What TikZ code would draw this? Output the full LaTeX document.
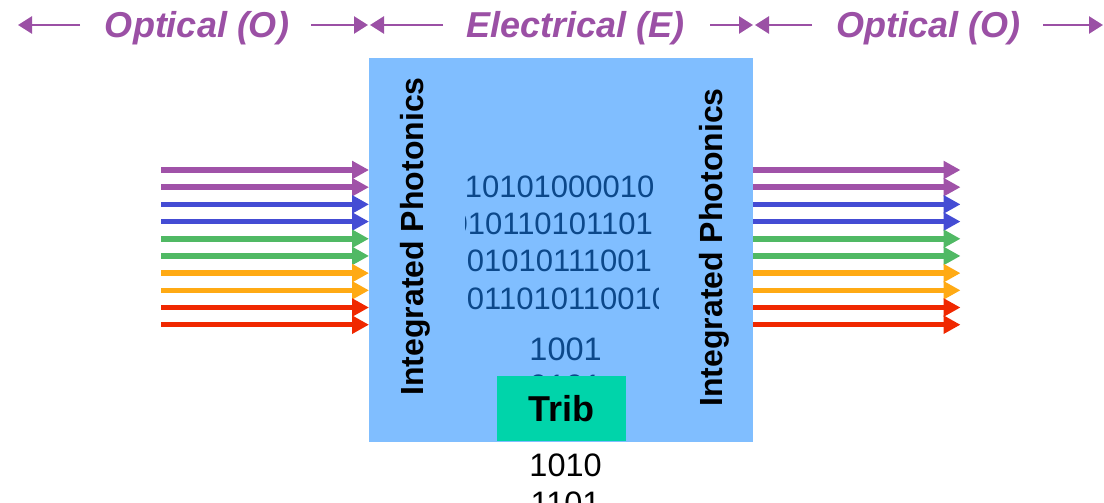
\documentclass[tikz,border=0pt]{standalone}
\usepackage{fontspec}
\setmainfont{Liberation Sans}
\usetikzlibrary{arrows.meta}
\definecolor{boxblue}{RGB}{128,190,255}
\definecolor{bittext}{RGB}{12,72,138}
\definecolor{tribgreen}{RGB}{0,212,170}
\definecolor{lblpurple}{RGB}{155,80,165}
\definecolor{wpurple}{RGB}{160,82,168}
\definecolor{wblue}{RGB}{68,76,212}
\definecolor{wgreen}{RGB}{80,185,100}
\definecolor{worange}{RGB}{255,170,20}
\definecolor{wred}{RGB}{240,40,0}
\tikzset{
  toparrow/.style={draw=lblpurple,line width=2.6pt,-{Triangle[length=14pt,width=17pt]}},
  toplabel/.style={text=lblpurple,font=\fontsize{36}{40}\selectfont\bfseries\itshape,inner sep=0pt,anchor=base},
  wave/.style={line width=5.5pt,-{Triangle[length=17pt,width=17.4pt]}},
  photon/.style={font=\fontsize{32}{36}\selectfont\bfseries,inner sep=0pt,anchor=base,rotate=90},
  bits/.style={text=bittext,font=\fontsize{31}{36}\selectfont,inner sep=0pt,anchor=base west},
  colbits/.style={font=\fontsize{32.5}{38}\selectfont,inner sep=0pt,anchor=base},
}
\begin{document}
\begin{tikzpicture}[x=1pt,y=-1pt]
\clip (0,0) rectangle (1104,503);
\fill[white] (0,0) rectangle (1104,503);
% central electrical box
\node[fill=boxblue,draw=none,minimum width=384pt,minimum height=384pt,inner sep=0pt,anchor=north west] (box) at (369,58) {};
% top labels and arrows
\node[toplabel] (o1) at (197,37.5) {Optical (O)};
\node[toplabel] (el) at (575.5,37.5) {Electrical (E)};
\node[toplabel] (o2) at (928.5,37.5) {Optical (O)};
\coordinate (a1s) at (80,25);   \coordinate (a1e) at (18,25);
\coordinate (a2s) at (311,25);  \coordinate (a2e) at (368,25);
\coordinate (a3s) at (443,25);  \coordinate (a3e) at (370,25);
\coordinate (a4s) at (710,25);  \coordinate (a4e) at (753,25);
\coordinate (a5s) at (812,25);  \coordinate (a5e) at (755,25);
\coordinate (a6s) at (1043,25); \coordinate (a6e) at (1103,25);
\draw[toparrow] (a1s) -- (a1e);
\draw[toparrow] (a2s) -- (a2e);
\draw[toparrow] (a3s) -- (a3e);
\draw[toparrow] (a4s) -- (a4e);
\draw[toparrow] (a5s) -- (a5e);
\draw[toparrow] (a6s) -- (a6e);
% wavelength arrows
\foreach \c [count=\i from 0] in {wpurple,wpurple,wblue,wblue,wgreen,wgreen,worange,worange,wred,wred}{
  \pgfmathsetmacro{\yy}{170+17.19*\i}
  \coordinate (in\i) at (161,\yy);
  \coordinate (out\i) at (960.5,\yy);
  \draw[wave,draw=\c,fill=\c] (in\i) -- (box.west |- in\i);
  \draw[wave,draw=\c,fill=\c] (box.east |- out\i) -- (out\i);
}
% integrated photonics labels
\node[photon] (ipl) at (423,236.5) {Integrated Photonics};
\node[photon] (ipr) at (722,247.5) {Integrated Photonics};
% binary stream, clipped
\begin{scope}
\clip (465.3,150) rectangle (658.5,330);
\node[bits] (b1) at (464.6,197) {10101000010};
\node[bits] (b2) at (450.4,234.3) {010110101101};
\node[bits] (b3) at (466.7,271.6) {01010111001};
\node[bits] (b4) at (466.7,309) {011010110010};
\end{scope}
% tributary column
\node[colbits,text=bittext] (c1) at (565.6,360) {1001};
\node[colbits,text=bittext] (c2) at (565.6,397.5) {0101};
\node[fill=tribgreen,minimum width=129pt,minimum height=65pt,inner sep=0pt,anchor=north west,font=\fontsize{36}{40}\selectfont\bfseries] (trib) at (497,376) {Trib};
\node[colbits,text=black] (c3) at (565.6,476) {1010};
\node[colbits,text=black] (c4) at (565.6,514.7) {1101};
\end{tikzpicture}
\end{document}
